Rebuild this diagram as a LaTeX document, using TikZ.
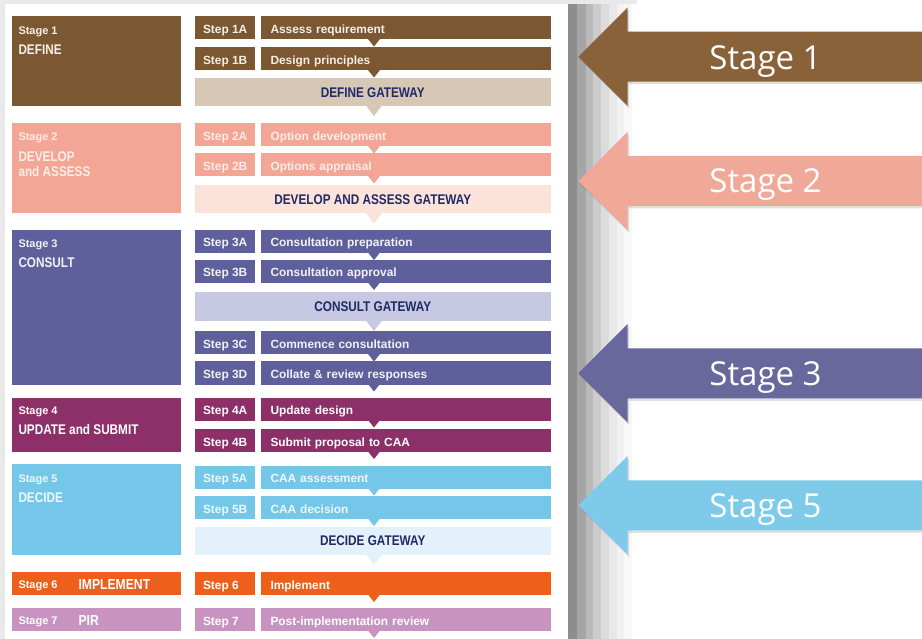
\documentclass[tikz,border=0pt]{standalone}
\usepackage{fontspec}
\setmainfont{Liberation Sans}
\newfontfamily\condf[FakeStretch=0.84]{Liberation Sans}
\newfontfamily\arrowf{Open Sans}
\usetikzlibrary{calc}
\definecolor{cA}{HTML}{7C5832}
\definecolor{cAg}{HTML}{D7C8B6}
\definecolor{cB}{HTML}{F3A696}
\definecolor{cBg}{HTML}{FCE3DA}
\definecolor{cC}{HTML}{5F5F9B}
\definecolor{cCg}{HTML}{C7C8E2}
\definecolor{cD}{HTML}{8D2F68}
\definecolor{cE}{HTML}{74C7E9}
\definecolor{cEg}{HTML}{E3F2FA}
\definecolor{cF}{HTML}{EE5F1C}
\definecolor{cG}{HTML}{C893C0}
\definecolor{tA}{HTML}{F6EFE7}
\definecolor{tB}{HTML}{FDEDE8}
\definecolor{tC}{HTML}{F2F2F8}
\definecolor{tE}{HTML}{EEF8FC}
\definecolor{gwtext}{HTML}{1F2A66}
\definecolor{aA}{HTML}{8A6239}
\definecolor{aB}{HTML}{F0A899}
\definecolor{aC}{HTML}{68689C}
\definecolor{aE}{HTML}{7DCBE8}
\definecolor{topgray}{HTML}{E9E9E9}
\newcommand\steprow[5]{%
  \node[steplab,#3] (#1l) at (195,#2) {\makebox[44pt][l]{#4}};
  \node[steptxt,#3] (#1) at (261,#2) {#5};}
\newcommand\stepnotch[2]{\fill[#1] (#2.south -| mid) ++(-6,-0.5) -- ++(12,0) -- ++(-6,7.5) -- cycle;}
\newcommand\gwnotch[2]{\fill[#1] (#2.south -| mid) ++(-8,-0.5) -- ++(16,0) -- ++(-8,10.5) -- cycle;}
\newcommand\stagearrow[5]{%
  \begin{scope}[shift={(0,#3)}]
    \fill[black,opacity=0.12] (579.8,2.5) -- (629.2,-46.9) -- (629.2,-22.5) -- (922,-22.5) -- (922,27.5) -- (629.2,27.5) -- (629.2,51.9) -- cycle;
    \fill[#2] (578.3,0) -- (627.7,-49.4) -- (627.7,-25) -- (922,-25) -- (922,25) -- (627.7,25) -- (627.7,49.4) -- cycle;
  \end{scope}
  \node[arrowtxt] (#1) at (765.5,#4) {#5};}
\begin{document}
\begin{tikzpicture}[x=1pt,y=-1pt,
  stagebox/.style={anchor=north west, minimum width=169pt, inner sep=0pt, outer sep=0pt},
  stagenum/.style={anchor=north west, inner sep=0pt, outer sep=0pt, font=\bfseries\fontsize{11}{13}\selectfont},
  stagettl/.style={anchor=north west, inner sep=0pt, outer sep=0pt, align=left, font=\condf\bfseries\fontsize{14}{15}\selectfont},
  steplab/.style={anchor=north west, minimum height=23pt, minimum width=60pt, inner xsep=8pt, inner ysep=0pt, outer sep=0pt, text height=11pt, text depth=0pt, font=\bfseries\fontsize{11.9}{13}\selectfont},
  steptxt/.style={anchor=north west, minimum height=23pt, inner xsep=9.5pt, inner ysep=0pt, outer sep=0pt, text width=270.5pt, align=left, text height=11pt, text depth=0pt, font=\bfseries\fontsize{11.9}{13}\selectfont},
  gwbox/.style={anchor=north west, minimum width=355.5pt, minimum height=28.5pt, inner sep=0pt, outer sep=0pt, text height=10pt, text depth=0pt, text=gwtext, font=\condf\bfseries\fontsize{14}{16}\selectfont},
  arrowtxt/.style={inner sep=0pt, text=white, text height=23.6pt, text depth=0pt, font=\arrowf\fontsize{33}{36}\selectfont},
  sA/.style={fill=cA,text=tA}, sB/.style={fill=cB,text=tB}, sC/.style={fill=cC,text=tC},
  sD/.style={fill=cD,text=white}, sE/.style={fill=cE,text=tE}, sF/.style={fill=cF,text=white},
  sG/.style={fill=cG,text=white}
]
\useasboundingbox (0,0) rectangle (922,639);
\fill[white] (0,0) rectangle (922,639);
% panel frame and stepped shadow
\fill[topgray] (0,0) rectangle (637,4.5);
\fill[topgray] (0,0) rectangle (4.5,639);
\foreach \xa/\xb/\g in {567.5/577/8D8D8D, 577/585.5/A5A5A5, 585.5/593/BABABA, 593/601/CCCCCC, 601/609/DCDCDC, 609/616.5/E8E8E8, 616.5/624/F2F2F2, 624/631.5/F8F8F8}{
  \definecolor{bandc}{HTML}{\g}
  \fill[bandc] (\xa,4.5) rectangle (\xb+0.2,639);
}
\coordinate (mid) at (374,0);

% Stage 1
\node[stagebox,sA,minimum height=89.5pt] (st1) at (11.8,16.5) {};
\node[stagenum,text=tA] (st1n) at (18.5,27.3) {Stage 1};
\node[stagettl,text=tA] (st1t) at (18.5,45) {DEFINE};
\steprow{s1a}{16.5}{sA}{Step 1A}{Assess requirement}
\steprow{s1b}{47.5}{sA}{Step 1B}{Design principles}
\node[gwbox,fill=cAg,minimum height=27.5pt] (gw1) at (195,78.5) {DEFINE GATEWAY};
\stepnotch{cA}{s1a}
\stepnotch{cA}{s1b}
\gwnotch{cAg}{gw1}

% Stage 2
\node[stagebox,sB,minimum height=90pt] (st2) at (11.8,123.5) {};
\node[stagenum,text=tB] (st2n) at (18.5,133) {Stage 2};
\node[stagettl,text=tB] (st2t) at (18.5,151.7) {DEVELOP\\and ASSESS};
\steprow{s2a}{123.5}{sB}{Step 2A}{Option development}
\steprow{s2b}{153.5}{sB}{Step 2B}{Options appraisal}
\node[gwbox,fill=cBg] (gw2) at (195,185) {DEVELOP AND ASSESS GATEWAY};
\stepnotch{cB}{s2a}
\stepnotch{cB}{s2b}
\gwnotch{cBg}{gw2}

% Stage 3
\node[stagebox,sC,minimum height=154.5pt] (st3) at (11.8,230) {};
\node[stagenum,text=tC] (st3n) at (18.5,240) {Stage 3};
\node[stagettl,text=tC] (st3t) at (18.5,257.3) {CONSULT};
\steprow{s3a}{230}{sC}{Step 3A}{Consultation preparation}
\steprow{s3b}{260}{sC}{Step 3B}{Consultation approval}
\node[gwbox,fill=cCg] (gw3) at (195,292.5) {CONSULT GATEWAY};
\steprow{s3c}{331.5}{sC}{Step 3C}{Commence consultation}
\steprow{s3d}{361.5}{sC}{Step 3D}{Collate \& review responses}
\stepnotch{cC}{s3a}
\stepnotch{cC}{s3b}
\gwnotch{cCg}{gw3}
\stepnotch{cC}{s3c}
\stepnotch{cC}{s3d}

% Stage 4
\node[stagebox,sD,minimum height=54.5pt] (st4) at (11.8,397.5) {};
\node[stagenum,text=white] (st4n) at (18.5,406.7) {Stage 4};
\node[stagettl,text=white] (st4t) at (18.5,424) {UPDATE and SUBMIT};
\steprow{s4a}{397.5}{sD}{Step 4A}{Update design}
\steprow{s4b}{429}{sD}{Step 4B}{Submit proposal to CAA}
\stepnotch{cD}{s4a}
\stepnotch{cD}{s4b}

% Stage 5
\node[stagebox,sE,minimum height=91pt] (st5) at (11.8,464) {};
\node[stagenum,text=tE] (st5n) at (18.5,475) {Stage 5};
\node[stagettl,text=tE] (st5t) at (18.5,492.7) {DECIDE};
\steprow{s5a}{465.5}{sE}{Step 5A}{CAA assessment}
\steprow{s5b}{496}{sE}{Step 5B}{CAA decision}
\node[gwbox,fill=cEg] (gw5) at (195,526.5) {DECIDE GATEWAY};
\stepnotch{cE}{s5a}
\stepnotch{cE}{s5b}
\gwnotch{cEg}{gw5}

% Stage 6
\node[stagebox,sF,minimum height=23pt] (st6) at (11.8,572) {};
\node[stagenum,text=white] (st6n) at (18.5,581) {Stage 6};
\node[stagettl,text=white,font=\condf\bfseries\fontsize{14.5}{16}\selectfont] (st6t) at (78.5,579.5) {IMPLEMENT};
\steprow{s6}{572}{sF}{Step 6}{Implement}
\stepnotch{cF}{s6}

% Stage 7
\node[stagebox,sG,minimum height=23pt] (st7) at (11.8,608) {};
\node[stagenum,text=white] (st7n) at (18.5,617) {Stage 7};
\node[stagettl,text=white,font=\condf\bfseries\fontsize{14.5}{16}\selectfont] (st7t) at (78.5,616) {PIR};
\steprow{s7}{608}{sG}{Step 7}{Post-implementation review}
\stepnotch{cG}{s7}

% Right-hand arrows
\stagearrow{ar1}{aA}{56.7}{57.5}{Stage 1}
\stagearrow{ar2}{aB}{181}{180.8}{Stage 2}
\stagearrow{ar3}{aC}{373.3}{373.8}{Stage 3}
\stagearrow{ar5}{aE}{505.3}{505.8}{Stage 5}
\end{tikzpicture}
\end{document}
